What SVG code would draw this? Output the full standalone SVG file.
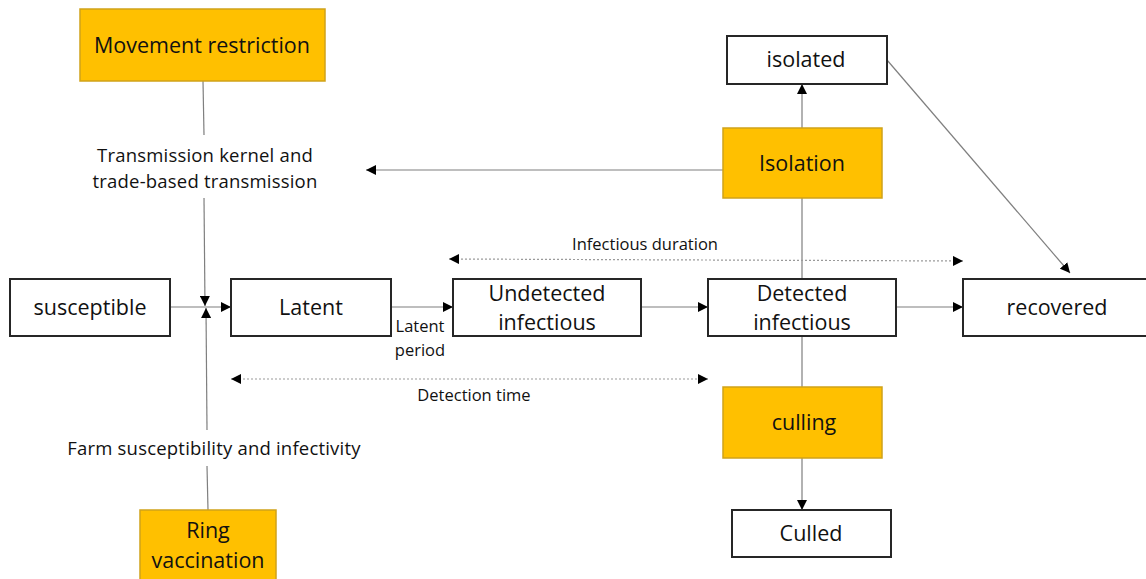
<svg xmlns="http://www.w3.org/2000/svg" width="1146" height="579" viewBox="0 0 1146 579">
<style>
.box{fill:#fff;stroke:#262626;stroke-width:2}
.ctl{fill:#FFC000;stroke:#D0A21A;stroke-width:1.5}
.t{font-family:"Open Sans","Noto Sans",sans-serif;fill:#111;text-anchor:middle}
.big{font-size:21.5px}
.mid{font-size:18.5px;letter-spacing:0.2px}
.sm{font-size:16.5px}
.ln{stroke:#7f7f7f;stroke-width:1.2;fill:none}
.dot{stroke:#9a9a9a;stroke-width:1.2;stroke-dasharray:2 2;fill:none}
</style>
<defs>
<marker id="ah" viewBox="0 0 10 10" refX="10" refY="5" markerWidth="10" markerHeight="10" markerUnits="userSpaceOnUse" orient="auto-start-reverse">
<path d="M0,0 L10,5 L0,10 Z" fill="#000"/>
</marker>
</defs>
<g id="connectors">
<line class="ln" x1="203" y1="81" x2="204" y2="135"/>
<line class="ln" x1="204" y1="198" x2="205" y2="306" marker-end="url(#ah)"/>
<line class="ln" x1="208" y1="510" x2="207" y2="466"/>
<line class="ln" x1="207" y1="430" x2="206" y2="308" marker-end="url(#ah)"/>
<line class="ln" x1="170" y1="307" x2="231" y2="307" marker-end="url(#ah)"/>
<line class="ln" x1="391" y1="307" x2="453" y2="307" marker-end="url(#ah)"/>
<line class="ln" x1="641" y1="307" x2="708" y2="307" marker-end="url(#ah)"/>
<line class="ln" x1="896" y1="307" x2="963" y2="307" marker-end="url(#ah)"/>
<line class="ln" x1="802" y1="128" x2="802" y2="84" marker-end="url(#ah)"/>
<line class="ln" x1="802" y1="279" x2="802" y2="198"/>
<line class="ln" x1="723" y1="170" x2="366" y2="170" marker-end="url(#ah)"/>
<line class="ln" x1="887" y1="60" x2="1070" y2="273" marker-end="url(#ah)"/>
<line class="ln" x1="802" y1="336" x2="802" y2="387"/>
<line class="ln" x1="802" y1="458" x2="802" y2="510" marker-end="url(#ah)"/>
<line class="dot" x1="449" y1="259" x2="963" y2="261" marker-start="url(#ah)" marker-end="url(#ah)"/>
<line class="dot" x1="231" y1="379" x2="708" y2="379" marker-start="url(#ah)" marker-end="url(#ah)"/>
</g>
<g id="movement-restriction"><rect class="ctl" x="80" y="9" width="245" height="72"/><text class="t big" x="202" y="53">Movement restriction</text></g>
<g id="transmission-label"><text class="t mid" x="205" y="162">Transmission kernel and</text><text class="t mid" x="205" y="188">trade-based transmission</text></g>
<g id="susceptible"><rect class="box" x="10" y="279" width="160" height="57"/><text class="t big" x="90" y="315">susceptible</text></g>
<g id="latent"><rect class="box" x="231" y="279" width="160" height="57"/><text class="t big" x="311" y="315">Latent</text></g>
<g id="latent-period"><text class="t sm" x="420" y="332">Latent</text><text class="t sm" x="420" y="356">period</text></g>
<g id="undetected"><rect class="box" x="453" y="279" width="188" height="57"/><text class="t big" x="547" y="301">Undetected</text><text class="t big" x="547" y="330">infectious</text></g>
<g id="detected"><rect class="box" x="708" y="279" width="188" height="57"/><text class="t big" x="802" y="301">Detected</text><text class="t big" x="802" y="330">infectious</text></g>
<g id="recovered"><rect class="box" x="963" y="279" width="190" height="57"/><text class="t big" x="1057" y="315">recovered</text></g>
<g id="infectious-duration"><text class="t sm" x="645" y="250">Infectious duration</text></g>
<g id="detection-time"><text class="t sm" x="474" y="401">Detection time</text></g>
<g id="isolated"><rect class="box" x="727" y="36" width="160" height="48"/><text class="t big" x="806" y="67">isolated</text></g>
<g id="isolation"><rect class="ctl" x="723" y="128" width="159" height="70"/><text class="t big" x="802" y="171">Isolation</text></g>
<g id="culling"><rect class="ctl" x="723" y="387" width="159" height="71"/><text class="t big" x="804" y="430">culling</text></g>
<g id="culled"><rect class="box" x="732" y="510" width="159" height="47"/><text class="t big" x="811" y="541">Culled</text></g>
<g id="farm-label"><text class="t mid" x="214" y="455">Farm susceptibility and infectivity</text></g>
<g id="ring-vaccination"><rect class="ctl" x="140" y="510" width="136" height="75"/><text class="t big" x="208" y="538">Ring</text><text class="t big" x="208" y="568">vaccination</text></g>
</svg>
